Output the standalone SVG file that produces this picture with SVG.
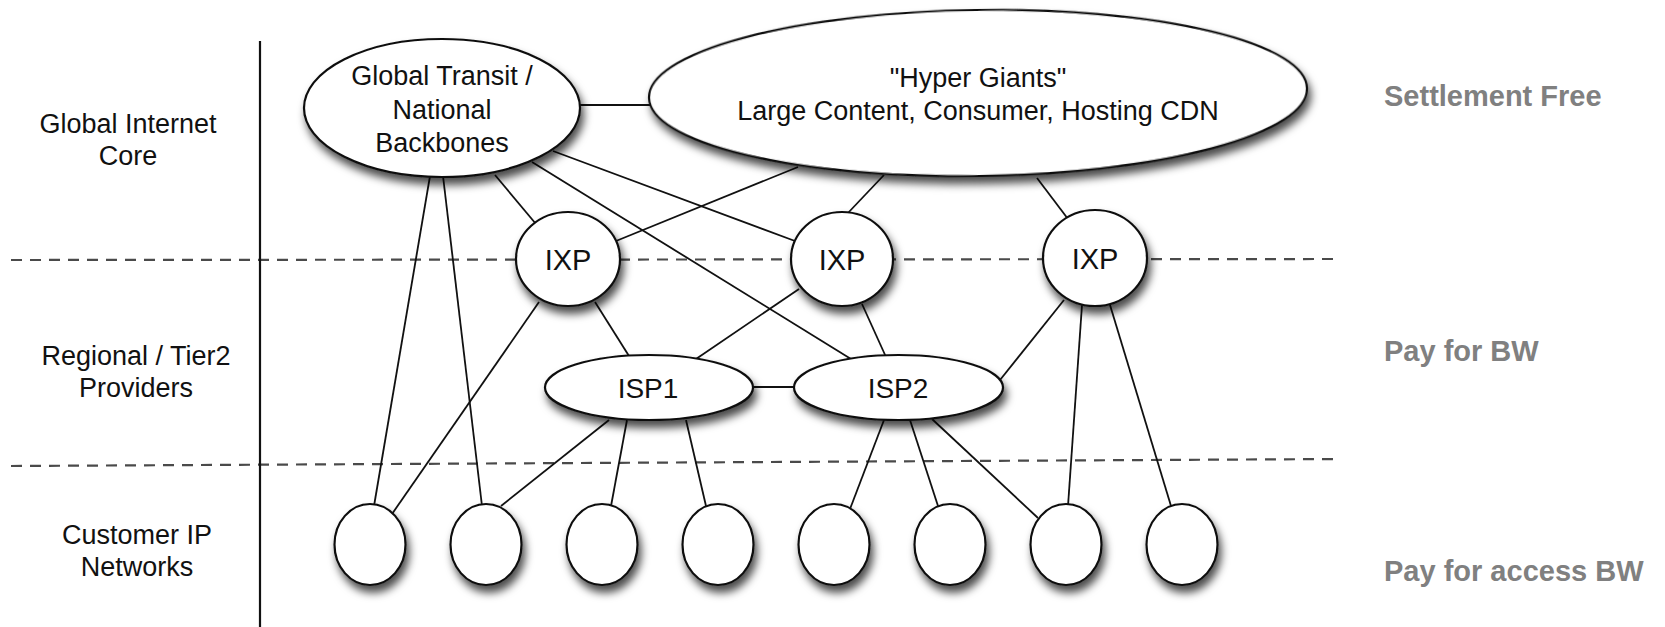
<svg xmlns="http://www.w3.org/2000/svg" width="1665" height="627" viewBox="0 0 1665 627">
<style>
.bg{fill:#ffffff}
.node{fill:#ffffff;stroke:#111111;stroke-width:2.2}
.lbl{font-family:"Liberation Sans",Arial,sans-serif;font-size:27px;fill:#111111;text-anchor:middle}
.ixp{font-size:29px}
.isp{font-size:28px}
.side{font-family:"Liberation Sans",Arial,sans-serif;font-size:27px;fill:#111111;text-anchor:middle}
.pay{font-family:"Liberation Sans",Arial,sans-serif;font-size:29px;font-weight:bold;fill:#808080}
.dash{stroke:#4a4a4a;stroke-width:2.2;stroke-dasharray:11 8;fill:none}
.edge{stroke:#111111;stroke-width:1.8;fill:none}
</style>
<defs>
<filter id="sh" x="-20%" y="-20%" width="150%" height="160%">
<feDropShadow dx="3" dy="7" stdDeviation="4" flood-color="#000000" flood-opacity="0.7"/>
</filter>
</defs>
<rect class="bg" x="0" y="0" width="1665" height="627"/>

<g id="dividers">
<line class="dash" x1="11" y1="260" x2="1338" y2="259"/>
<line class="dash" x1="11" y1="466" x2="1338" y2="459"/>
<line x1="260" y1="41" x2="260" y2="627" stroke="#111111" stroke-width="2.2"/>
</g>

<g id="row-labels">
<text class="side" x="128" y="133">Global Internet</text>
<text class="side" x="128" y="165">Core</text>
<text class="side" x="136" y="365">Regional / Tier2</text>
<text class="side" x="136" y="397">Providers</text>
<text class="side" x="137" y="544">Customer IP</text>
<text class="side" x="137" y="576">Networks</text>
<text class="pay" x="1384" y="106">Settlement Free</text>
<text class="pay" x="1384" y="361">Pay for BW</text>
<text class="pay" x="1384" y="581">Pay for access BW</text>
</g>

<g id="connectors">
<line class="edge" x1="578" y1="105" x2="652" y2="105"/>
<line class="edge" x1="430" y1="176" x2="374" y2="506"/>
<line class="edge" x1="443" y1="176" x2="482" y2="506"/>
<line class="edge" x1="495" y1="175" x2="536" y2="224"/>
<line class="edge" x1="553" y1="151" x2="795" y2="241"/>
<line class="edge" x1="532" y1="162" x2="851" y2="359"/>
<line class="edge" x1="798" y1="167" x2="616" y2="241"/>
<line class="edge" x1="884" y1="175" x2="847" y2="214"/>
<line class="edge" x1="1037" y1="178" x2="1068" y2="219"/>
<line class="edge" x1="595" y1="302" x2="629" y2="356"/>
<line class="edge" x1="539" y1="302" x2="392" y2="514"/>
<line class="edge" x1="799" y1="289" x2="696" y2="359"/>
<line class="edge" x1="862" y1="304" x2="886" y2="357"/>
<line class="edge" x1="1064" y1="300" x2="1000" y2="380"/>
<line class="edge" x1="1082" y1="305" x2="1068" y2="506"/>
<line class="edge" x1="1110" y1="305" x2="1171" y2="506"/>
<line class="edge" x1="752" y1="387" x2="796" y2="387"/>
<line class="edge" x1="609" y1="420" x2="501" y2="506"/>
<line class="edge" x1="627" y1="420" x2="611" y2="506"/>
<line class="edge" x1="686" y1="420" x2="706" y2="506"/>
<line class="edge" x1="884" y1="420" x2="850" y2="509"/>
<line class="edge" x1="910" y1="420" x2="938" y2="506"/>
<line class="edge" x1="932" y1="419" x2="1038" y2="518"/>
</g>

<g id="global-transit">
<ellipse class="node" filter="url(#sh)" cx="442" cy="108" rx="138" ry="69"/>
<text class="lbl" x="442" y="85">Global Transit /</text>
<text class="lbl" x="442" y="119">National</text>
<text class="lbl" x="442" y="152">Backbones</text>
</g>

<g id="hyper-giants">
<ellipse class="node" filter="url(#sh)" cx="978" cy="93" rx="329" ry="83" transform="rotate(-0.8 978 93)"/>
<text class="lbl" x="978" y="87">"Hyper Giants"</text>
<text class="lbl" x="978" y="120">Large Content, Consumer, Hosting CDN</text>
</g>

<g id="ixp1">
<ellipse class="node" filter="url(#sh)" cx="568" cy="259" rx="52" ry="47"/>
<text class="lbl ixp" x="568" y="270">IXP</text>
</g>
<g id="ixp2">
<ellipse class="node" filter="url(#sh)" cx="842" cy="259" rx="51" ry="47"/>
<text class="lbl ixp" x="842" y="270">IXP</text>
</g>
<g id="ixp3">
<ellipse class="node" filter="url(#sh)" cx="1095" cy="258" rx="52" ry="48"/>
<text class="lbl ixp" x="1095" y="269">IXP</text>
</g>

<g id="isp1">
<ellipse class="node" filter="url(#sh)" cx="649" cy="387.5" rx="104" ry="32.5"/>
<text class="lbl isp" x="648" y="398">ISP1</text>
</g>
<g id="isp2">
<ellipse class="node" filter="url(#sh)" cx="898.5" cy="387.5" rx="104.5" ry="32.5"/>
<text class="lbl isp" x="898" y="398">ISP2</text>
</g>

<g id="cust1"><ellipse class="node" filter="url(#sh)" cx="370" cy="544.5" rx="35.5" ry="40.5"/></g>
<g id="cust2"><ellipse class="node" filter="url(#sh)" cx="486" cy="544.5" rx="35.5" ry="40.5"/></g>
<g id="cust3"><ellipse class="node" filter="url(#sh)" cx="602" cy="544.5" rx="35.5" ry="40.5"/></g>
<g id="cust4"><ellipse class="node" filter="url(#sh)" cx="718" cy="544.5" rx="35.5" ry="40.5"/></g>
<g id="cust5"><ellipse class="node" filter="url(#sh)" cx="834" cy="544.5" rx="35.5" ry="40.5"/></g>
<g id="cust6"><ellipse class="node" filter="url(#sh)" cx="950" cy="544.5" rx="35.5" ry="40.5"/></g>
<g id="cust7"><ellipse class="node" filter="url(#sh)" cx="1066" cy="544.5" rx="35.5" ry="40.5"/></g>
<g id="cust8"><ellipse class="node" filter="url(#sh)" cx="1182" cy="544.5" rx="35.5" ry="40.5"/></g>
</svg>
